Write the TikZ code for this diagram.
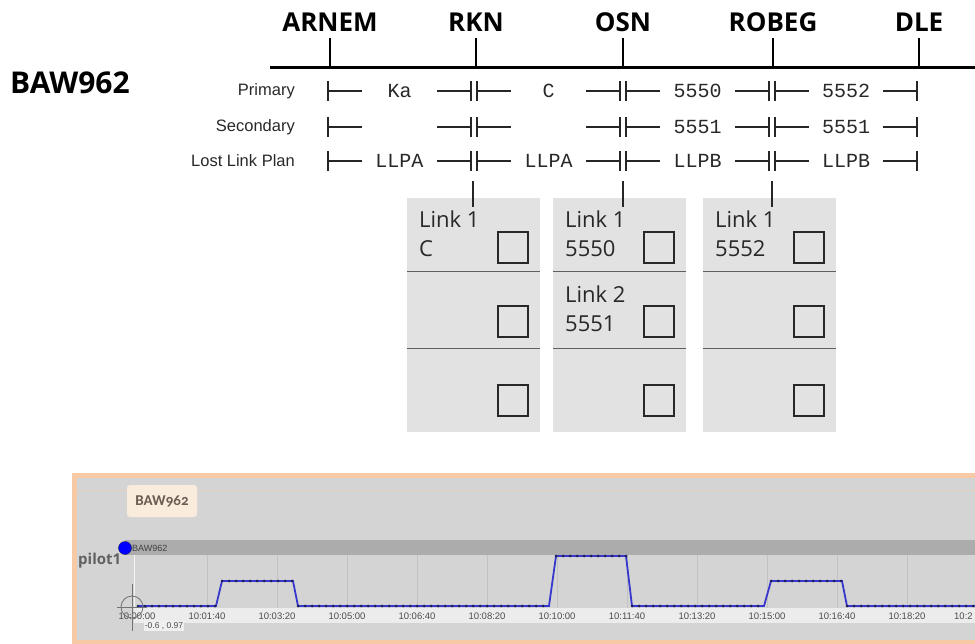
\documentclass[tikz,border=0pt]{standalone}
\usepackage{fontspec}
\setmainfont{Open Sans}
\newfontfamily\lsans{Liberation Sans}
\newfontfamily\lmono{Liberation Mono}
\newfontfamily\oldfig[Numbers=OldStyle]{Carlito}
\usetikzlibrary{positioning,calc}

\definecolor{txtdark}{RGB}{40,40,40}
\definecolor{colfill}{RGB}{226,226,226}
\definecolor{divline}{RGB}{95,95,95}
\definecolor{peach}{RGB}{247,202,165}
\definecolor{panelgray}{RGB}{212,212,212}
\definecolor{bargray}{RGB}{172,172,172}
\definecolor{gridgray}{RGB}{194,194,194}
\definecolor{axisband}{RGB}{236,236,236}
\definecolor{tagfill}{RGB}{250,236,220}
\definecolor{tagtext}{RGB}{105,92,82}
\definecolor{sigblue}{RGB}{55,55,205}
\definecolor{sigdot}{RGB}{30,30,90}

\tikzset{
	wpt/.style={font=\bfseries\fontsize{26}{26}\selectfont, inner sep=0pt, text=black},
	rowlabel/.style={font=\lsans\fontsize{16.5}{17}\selectfont, anchor=east, inner sep=0pt, text=txtdark},
	segtxt/.style={font=\lmono\fontsize{20}{20}\selectfont, inner sep=0pt, text=txtdark},
	segline/.style={line width=1.3pt, black!85},
	linktxt/.style={font=\fontsize{22}{22}\selectfont, text=txtdark, anchor=base west, inner sep=0pt},
	chkbox/.style={draw=txtdark, line width=1.4pt},
	ticklab/.style={font=\lsans\fontsize{9.5}{9.5}\selectfont, text=black!70, inner sep=0pt}
}

% one leg of a row: y, from, to, text
\newcommand\legseg[4]{%
	\draw[segline] (#2+3,#1-10) -- (#2+3,#1+10);
	\draw[segline] (#2+3,#1) -- (#2+37,#1);
	\node[segtxt] at ({(#2+#3)/2},#1) {#4};
	\draw[segline] (#3-37,#1) -- (#3-3,#1);
	\draw[segline] (#3-3,#1-10) -- (#3-3,#1+10);
}

\begin{document}
\begin{tikzpicture}[x=1pt,y=-1pt]
	\useasboundingbox (0,0) rectangle (975,644);

	% route header
	\node[font=\bfseries\fontsize{30}{30}\selectfont, anchor=west, inner sep=0pt] (flt) at (10,83) {BAW962};
	\draw[line width=3pt] (270,68) -- (975,68);
	\foreach \x/\nm in {330/ARNEM,476/RKN,623/OSN,773/ROBEG,919/DLE}{
		\node[wpt] (\nm) at (\x,22) {\nm};
		\draw[line width=1.8pt] (\x,38) -- (\x,68);
	}

	% rows
	\node[rowlabel] (prim) at (295,91) {Primary};
	\node[rowlabel] (sec) at (295,127) {Secondary};
	\node[rowlabel] (llp) at (295,161) {Lost Link Plan};
	\foreach \xa/\xb/\t in {325/474/Ka,474/623/C,623/772/5550,772/920/5552}
		{\legseg{91}{\xa}{\xb}{\t}}
	\foreach \xa/\xb/\t in {325/474/,474/623/,623/772/5551,772/920/5551}
		{\legseg{127}{\xa}{\xb}{\t}}
	\foreach \xa/\xb/\t in {325/474/LLPA,474/623/LLPA,623/772/LLPB,772/920/LLPB}
		{\legseg{161}{\xa}{\xb}{\t}}

	% link columns
	\foreach \cx/\nm in {407/colA,553/colB,703/colC}{
		\fill[colfill] (\cx,198) rectangle ++(133,234);
		\coordinate (\nm) at (\cx,198);
		\draw[divline, line width=1pt] (\cx,272) -- ++(133,0);
		\draw[divline, line width=1pt] (\cx,349) -- ++(133,0);
		\foreach \yb in {232,306,385}
			\draw[chkbox] (\cx+91,\yb) rectangle ++(30,31);
	}
	\foreach \x/\nm in {473/rknll,623/osnll,772/robll}{
		\coordinate (\nm) at (\x,181);
		\coordinate (\nm end) at (\x,207);
		\draw[line width=1.3pt, black!85] (\nm) -- (\nm end);
	}
	\node[linktxt] (l1a) at (419,228) {Link 1};
	\node[linktxt] (l1b) at (419,257) {C};
	\node[linktxt] (l2a) at (565,228) {Link 1};
	\node[linktxt] (l2b) at (565,257) {5550};
	\node[linktxt] (l2c) at (565,303) {Link 2};
	\node[linktxt] (l2d) at (565,332) {5551};
	\node[linktxt] (l3a) at (715,228) {Link 1};
	\node[linktxt] (l3b) at (715,257) {5552};

	% timeline panel
	\fill[peach] (72,473) rectangle (975,644);
	\fill[panelgray] (77,478) rectangle (975,640);
	\draw[peach!40!panelgray, line width=0.8pt] (77,490) -- (975,490);
	\node[fill=tagfill, rounded corners=3pt, minimum width=70, minimum height=32, inner sep=0pt,
		font=\oldfig\bfseries\fontsize{15}{15}\selectfont, text=tagtext] (tag) at (162,501) {BAW962};
	\fill[bargray] (125,540) rectangle (975,555);
	\fill[axisband] (134,608) rectangle (975,623);
	\foreach \i in {1,...,12}
		\draw[gridgray, line width=0.8pt] (137+70*\i,555) -- (137+70*\i,608);
	\draw[white!75!panelgray, line width=1pt] (134,555) -- (134,608);
	\foreach \i/\t in {0/10:00:00,1/10:01:40,2/10:03:20,3/10:05:00,4/10:06:40,5/10:08:20,6/10:10:00,7/10:11:40,8/10:13:20,9/10:15:00,10/10:16:40,11/10:18:20}
		\node[ticklab] at (137+70*\i,616) {\t};
	\node[ticklab, anchor=west] at (954,616) {10:2};
	\node[circle, fill=blue, draw=sigdot, minimum size=13, inner sep=0pt] (dot) at (125,548) {};
	\node[font=\lsans\fontsize{9}{9}\selectfont, text=black!75, anchor=west, inner sep=0pt] (trk) at (132,548) {BAW962};
	\node[font=\bfseries\fontsize{15}{15}\selectfont, text=black!62, anchor=west, inner sep=0pt] (pil) at (78,561) {pilot1};

	% signal
	\draw[sigblue, line width=1.8pt] (138,606) -- (216,606) -- (222,581) -- (293,581) -- (298,606)
		-- (549,606) -- (556,556) -- (626,556) -- (632,606) -- (764,606) -- (771,581)
		-- (842,581) -- (847,606) -- (975,606);
	\foreach \xs/\xe/\yy in {138/216/606,222/293/581,298/549/606,556/626/556,632/764/606,771/842/581,847/975/606}{
		\pgfmathtruncatemacro\nd{(\xe-\xs)/7}
		\foreach \k in {0,...,\nd}
			\fill[sigdot] (\xs+7*\k,\yy) circle (1.5pt);
	}

	% cursor
	\draw[black!55, line width=0.8pt] (132,607) circle (11pt);
	\draw[black!55, line width=0.8pt] (132,584) -- (132,631);
	\draw[black!55, line width=0.8pt] (117,607) -- (147,607);
	\node[fill=white!88!gray, inner sep=1pt, font=\lsans\fontsize{8.5}{8.5}\selectfont, text=black!70] (pos) at (164,626) {-0.6 , 0.97};
\end{tikzpicture}
\end{document}
